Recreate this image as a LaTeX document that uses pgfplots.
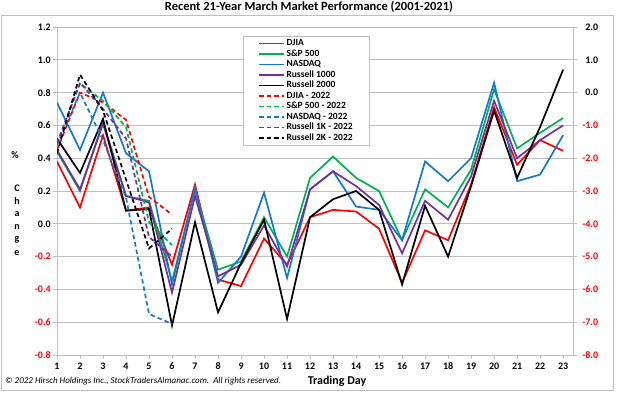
\documentclass[border=0pt]{standalone}
\usepackage{fontspec}
\setmainfont{Carlito}
\usepackage{pgfplots}
\usepackage{pgfplotstable}
\pgfplotsset{compat=1.18}
\definecolor{cRed}{RGB}{255,0,0}
\definecolor{cGreen}{RGB}{0,176,80}
\definecolor{cBlue}{RGB}{20,120,210}
\definecolor{cPurple}{RGB}{112,48,160}
\definecolor{cGrid}{RGB}{190,190,190}

\pgfplotstableread{
day djia spx nasdaq rut1k rut2k
1 0.38 0.44 0.74 0.45 0.52
2 0.10 0.20 0.45 0.21 0.31
3 0.54 0.62 0.80 0.61 0.64
4 0.08 0.17 0.43 0.17 0.08
5 0.10 0.14 0.32 0.13 0.09
6 -0.25 -0.35 -0.37 -0.42 -0.62
7 0.24 0.21 0.22 0.17 0.01
8 -0.34 -0.28 -0.36 -0.32 -0.54
9 -0.38 -0.23 -0.20 -0.25 -0.24
10 -0.09 0.04 0.19 -0.01 0.025
11 -0.25 -0.20 -0.33 -0.26 -0.58
12 0.04 0.28 0.21 0.21 0.04
13 0.085 0.41 0.32 0.32 0.15
14 0.075 0.28 0.105 0.23 0.20
15 -0.03 0.20 0.085 0.115 0.085
16 -0.36 -0.10 -0.10 -0.18 -0.37
17 -0.04 0.21 0.38 0.14 0.11
18 -0.10 0.10 0.26 0.025 -0.20
19 0.24 0.33 0.40 0.29 0.23
20 0.71 0.82 0.86 0.75 0.69
21 0.36 0.46 0.26 0.40 0.28
22 0.51 0.555 0.30 0.51 0.59
23 0.445 0.645 0.54 0.60 0.94
}\hist

\pgfplotstableread{
day djia spx nasdaq rut1k rut2k
1 -1.75 -1.55 -1.60 -1.55 -1.85
2 0.00 0.28 0.00 0.30 0.55
3 -0.30 -0.25 -1.45 -0.50 -0.55
4 -0.83 -1.05 -3.20 -1.40 -2.65
5 -3.18 -3.95 -6.75 -4.40 -4.75
6 -3.72 -4.65 -7.05 -5.00 -4.15
}\cur

\begin{document}
\begin{tikzpicture}[x=1pt,y=1pt]
\path[use as bounding box] (0,0) rectangle (618,394);
\draw[cGrid, line width=0.7pt] (1.5,3.5) rectangle (613,379);
\node[font=\bfseries\fontsize{12.5}{14}\selectfont] at (309,387) {Recent 21-Year March Market Performance (2001-2021)};

\begin{axis}[
  at={(57pt,39pt)}, anchor=south west, scale only axis,
  width=516pt, height=328pt,
  xmin=1, xmax=23.43, ymin=-0.8, ymax=1.2,
  axis line style={cGrid, line width=0.7pt},
  ymajorgrids, grid style={cGrid, line width=0.7pt},
  tick style={cGrid, line width=0.7pt}, tick align=outside, major tick length=4pt,
  xtick={1,2,...,23}, xtick pos=lower, ytick pos=left,
  xticklabels={1,2,3,4,5,6,7,8,9,10,11,12,13,14,15,16,17,18,19,20,21,22,23},
  ytick={-0.8,-0.6,-0.4,-0.2,0,0.2,0.4,0.6,0.8,1.0,1.2},
  yticklabels={\textcolor{cRed}{-0.8},\textcolor{cRed}{-0.6},\textcolor{cRed}{-0.4},\textcolor{cRed}{-0.2},0.0,0.2,0.4,0.6,0.8,1.0,1.2},
  ticklabel style={font=\bfseries\fontsize{10}{11}\selectfont},
  yticklabel style={inner sep=2pt},
  legend style={at={(0.3605,0.9726)}, anchor=north west, draw=cGrid,
    font=\bfseries\fontsize{9.5}{10}\selectfont, inner xsep=15pt, inner ysep=2pt,
    row sep=0pt, cells={anchor=west},
    nodes={text height=6.3pt, text depth=1.2pt, inner sep=1.5pt}},
  legend image code/.code={\draw[line width=1.8pt,#1] (0pt,0pt) -- (25pt,0pt);},
  every axis plot/.append style={line width=1.7pt},
]
\addplot[cRed, no markers] table[x=day, y=djia] {\hist};
\addlegendentry{DJIA}
\addplot[cGreen, no markers] table[x=day, y=spx] {\hist};
\addlegendentry{S\&P 500}
\addplot[cBlue, no markers] table[x=day, y=nasdaq] {\hist};
\addlegendentry{NASDAQ}
\addplot[cPurple, no markers] table[x=day, y=rut1k] {\hist};
\addlegendentry{Russell 1000}
\addplot[black, no markers] table[x=day, y=rut2k] {\hist};
\addlegendentry{Russell 2000}
\addlegendimage{cRed, line width=1.8pt, dash pattern=on 4.5pt off 3pt}
\addlegendentry{DJIA - 2022}
\addlegendimage{cGreen, line width=1.8pt, dash pattern=on 4.5pt off 3pt}
\addlegendentry{S\&P 500 - 2022}
\addlegendimage{cBlue, line width=1.8pt, dash pattern=on 4.5pt off 3pt}
\addlegendentry{NASDAQ - 2022}
\addlegendimage{cPurple, line width=1.8pt, dash pattern=on 4.5pt off 3pt}
\addlegendentry{Russell 1K - 2022}
\addlegendimage{black, line width=1.8pt, dash pattern=on 4.5pt off 3pt}
\addlegendentry{Russell 2K - 2022}
\end{axis}

\begin{axis}[
  at={(57pt,39pt)}, anchor=south west, scale only axis,
  width=516pt, height=328pt,
  xmin=1, xmax=23.43, ymin=-8, ymax=2,
  axis x line=none, axis y line*=right,
  axis line style={cGrid, line width=0.7pt},
  tick style={cGrid, line width=0.7pt}, tick align=outside, major tick length=4pt,
  ytick={-8,-7,-6,-5,-4,-3,-2,-1,0,1,2},
  yticklabels={\textcolor{cRed}{-8.0},\textcolor{cRed}{-7.0},\textcolor{cRed}{-6.0},\textcolor{cRed}{-5.0},\textcolor{cRed}{-4.0},\textcolor{cRed}{-3.0},\textcolor{cRed}{-2.0},\textcolor{cRed}{-1.0},0.0,1.0,2.0},
  yticklabel style={font=\bfseries\fontsize{10}{11}\selectfont, inner sep=2pt, text width=19pt, align=right},
  every axis plot/.append style={line width=1.7pt, dash pattern=on 4.5pt off 3pt},
]
\addplot[cRed, no markers] table[x=day, y=djia] {\cur};
\addplot[cGreen, no markers] table[x=day, y=spx] {\cur};
\addplot[cBlue, no markers] table[x=day, y=nasdaq] {\cur};
\addplot[cPurple, no markers] table[x=day, y=rut1k] {\cur};
\addplot[black, no markers] table[x=day, y=rut2k] {\cur};
\end{axis}

\node[font=\bfseries\fontsize{10}{11}\selectfont] at (15,239) {\%};
\foreach \c/\yy in {C/206,h/193,a/180,n/167,g/154,e/141}
  \node[font=\bfseries\fontsize{10}{11}\selectfont, inner sep=0pt] at (17,\yy) {\c};
\node[font=\bfseries\fontsize{12}{13}\selectfont] at (337,13) {Trading Day};
\node[font=\itshape\fontsize{9}{10}\selectfont, anchor=west, inner sep=0pt] at (5,13) {\textcopyright{} 2022 Hirsch Holdings Inc., StockTradersAlmanac.com.\ \ All rights reserved.};
\end{tikzpicture}
\end{document}
